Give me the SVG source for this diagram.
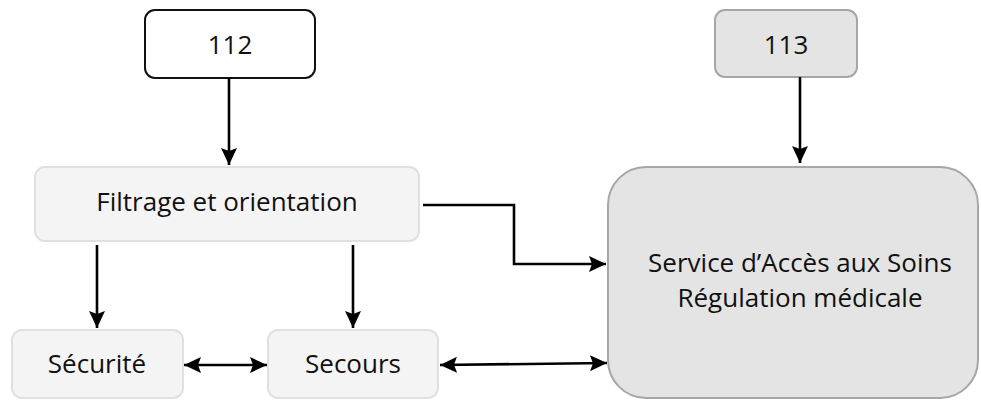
<svg xmlns="http://www.w3.org/2000/svg" width="981" height="400" viewBox="0 0 981 400">
<style>
text{font-family:"Open Sans","Noto Sans","Liberation Sans",sans-serif;font-size:26px;fill:#111;text-anchor:middle}
.c{fill:none;stroke:#000;stroke-width:2.6}
.light{fill:#f4f4f4;stroke:#e0e0e0;stroke-width:2}
.grey{fill:#e4e4e4;stroke:#a6a6a6;stroke-width:2}
</style>
<defs>
<marker id="a" viewBox="0 0 17 16" refX="17" refY="8" markerWidth="17" markerHeight="16" markerUnits="userSpaceOnUse" orient="auto-start-reverse">
<path d="M0,0 L17,8 L0,16 L3,8 z" fill="#000"/>
</marker>
</defs>
<g id="n112"><rect x="145" y="10" width="170" height="68" rx="10" fill="#fff" stroke="#111" stroke-width="2"/><text x="230" y="54">112</text></g>
<g id="n113"><rect x="715" y="10" width="142" height="67" rx="10" class="grey"/><text x="786" y="54">113</text></g>
<g id="filtrage"><rect x="35" y="167" width="384" height="74" rx="10" class="light"/><text x="227" y="211">Filtrage et orientation</text></g>
<g id="securite"><rect x="12" y="330" width="171" height="68" rx="10" class="light"/><text x="97" y="373">Sécurité</text></g>
<g id="secours"><rect x="268" y="330" width="170" height="68" rx="10" class="light"/><text x="353" y="373">Secours</text></g>
<g id="sas"><rect x="608" y="167" width="370" height="231" rx="38" class="grey"/><text x="800" y="272">Service d’Accès aux Soins</text><text x="800" y="307">Régulation médicale</text></g>
<g id="connectors">
<path class="c" d="M229,78 V165" marker-end="url(#a)"/>
<path class="c" d="M800,77 V163" marker-end="url(#a)"/>
<path class="c" d="M423,205 H514 V264 H606" marker-end="url(#a)"/>
<path class="c" d="M97,245 V328" marker-end="url(#a)"/>
<path class="c" d="M353,245 V328" marker-end="url(#a)"/>
<path class="c" d="M184,365 H267" marker-start="url(#a)" marker-end="url(#a)"/>
<path class="c" d="M440,365 L607,363" marker-start="url(#a)" marker-end="url(#a)"/>
</g>
</svg>
